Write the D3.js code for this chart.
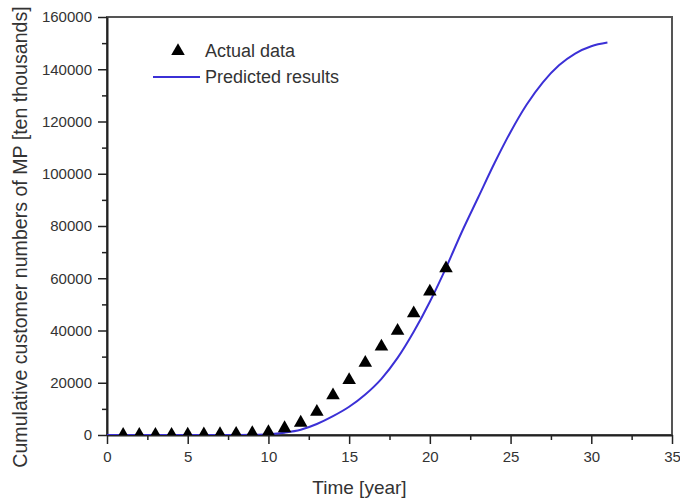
<!DOCTYPE html>
<html>
<head>
<meta charset="utf-8">
<script src="https://cdn.jsdelivr.net/npm/d3@7"></script>
<style>
  body { margin: 0; background: #fff; }
  svg text { font-family: Arial, "Liberation Sans", sans-serif; fill: #333; }
</style>
</head>
<body>
<svg id="chart" width="680" height="502"></svg>
<script>
// values
const actualYears  = [1, 2, 3, 4, 5, 6, 7, 8, 9, 10, 11, 12, 13, 14, 15, 16, 17, 18, 19, 20, 21];
const actualValues = [20, 40, 70, 100, 150, 220, 320, 480, 700, 1100, 2600, 4700, 8900, 15200,
                      21000, 27600, 33800, 39900, 46600, 54900, 63800];

const predYears  = [0, 1, 2, 3, 4, 5, 6, 7, 8, 9, 10, 11, 12, 13, 14, 15, 16, 17, 18, 19, 20,
                    21, 22, 23, 24, 25, 26, 27, 28, 29, 30, 31];
const predValues = [0, 0, 0, 0, 0, 0, 0, 0, 20, 80, 300, 900, 2000, 4200, 7200, 10800, 15500,
                    21500, 29500, 39500, 51000, 64000, 78000, 91000, 104000, 116000, 126500,
                    135000, 141500, 146000, 148800, 150200];

const xTicks = [0, 5, 10, 15, 20, 25, 30, 35];
const yTicks = [0, 20000, 40000, 60000, 80000, 100000, 120000, 140000, 160000];
const legendLabels = ['Actual data', 'Predicted results'];

const W = 680, H = 502;
const margin = { top: 17, right: 8, bottom: 67, left: 107 };
const iw = W - margin.left - margin.right;
const ih = H - margin.top - margin.bottom;
const lineColor = '#3b30d6';

const svg = d3.select('#chart');
const g = svg.append('g').attr('transform', `translate(${margin.left},${margin.top})`);

const x = d3.scaleLinear().domain([0, 35]).range([0, iw]);
const y = d3.scaleLinear().domain([0, 160000]).range([ih, 0]);

g.append('clipPath').attr('id', 'plot-clip')
  .append('rect').attr('width', iw).attr('height', ih);

// frame (top/right)
g.append('rect')
  .attr('width', iw).attr('height', ih)
  .attr('fill', 'none').attr('stroke', '#555').attr('stroke-width', 2);

// minor ticks first, then major axes on top
g.append('g')
  .attr('transform', `translate(0,${ih})`)
  .call(d3.axisBottom(x).tickValues(d3.range(2.5, 35, 5)).tickSize(5).tickFormat(''))
  .call(a => a.select('.domain').remove());
g.append('g')
  .call(d3.axisLeft(y).tickValues(d3.range(10000, 160000, 20000)).tickSize(5).tickFormat(''))
  .call(a => a.select('.domain').remove());

const xAxis = g.append('g')
  .attr('transform', `translate(0,${ih})`)
  .call(d3.axisBottom(x).tickValues(xTicks).tickSize(9).tickPadding(7).tickSizeOuter(0));
const yAxis = g.append('g')
  .call(d3.axisLeft(y).tickValues(yTicks).tickSize(9).tickPadding(6).tickSizeOuter(0).tickFormat(d3.format('d')));

g.selectAll('.tick line').attr('stroke', '#222').attr('stroke-width', 1.5);
[xAxis, yAxis].forEach(a => {
  a.select('.domain').attr('stroke', '#222').attr('stroke-width', 2);
  a.selectAll('.tick text').attr('font-size', 15).attr('fill', '#333')
    .style('font-family', 'Arial, "Liberation Sans", sans-serif');
});

// predicted curve
const line = d3.line()
  .x((d, i) => x(predYears[i]))
  .y(d => y(d))
  .curve(d3.curveMonotoneX);

g.append('path')
  .datum(predValues)
  .attr('clip-path', 'url(#plot-clip)')
  .attr('fill', 'none')
  .attr('stroke', lineColor)
  .attr('stroke-width', 2)
  .attr('d', line);

// actual data markers (clipped like the original, so the ones near 0 sit on the axis)
const tri = d3.symbol().type(d3.symbolTriangle).size(80);
g.append('g')
  .attr('clip-path', 'url(#plot-clip)')
  .selectAll('path.pt')
  .data(actualValues)
  .join('path')
  .attr('class', 'pt')
  .attr('d', tri)
  .attr('fill', '#000')
  .attr('transform', (d, i) => `translate(${x(actualYears[i])},${y(d)})`);

// legend
const leg = svg.append('g');
leg.append('path').attr('d', tri).attr('fill', '#000')
  .attr('transform', 'translate(178,51)');
leg.append('line')
  .attr('x1', 153).attr('x2', 200).attr('y1', 77).attr('y2', 77)
  .attr('stroke', lineColor).attr('stroke-width', 2);
leg.selectAll('text')
  .data(legendLabels)
  .join('text')
  .attr('x', 205)
  .attr('y', (d, i) => 57 + i * 26)
  .attr('font-size', 18)
  .text(d => d);

// axis titles
svg.append('text')
  .attr('x', margin.left + iw / 2 - 30)
  .attr('y', 494)
  .attr('text-anchor', 'middle')
  .attr('font-size', 19)
  .text('Time [year]');

svg.append('text')
  .attr('transform', 'translate(27,237) rotate(-90)')
  .attr('text-anchor', 'middle')
  .attr('font-size', 19.6)
  .text('Cumulative customer numbers of MP [ten thousands]');
</script>
</body>
</html>
